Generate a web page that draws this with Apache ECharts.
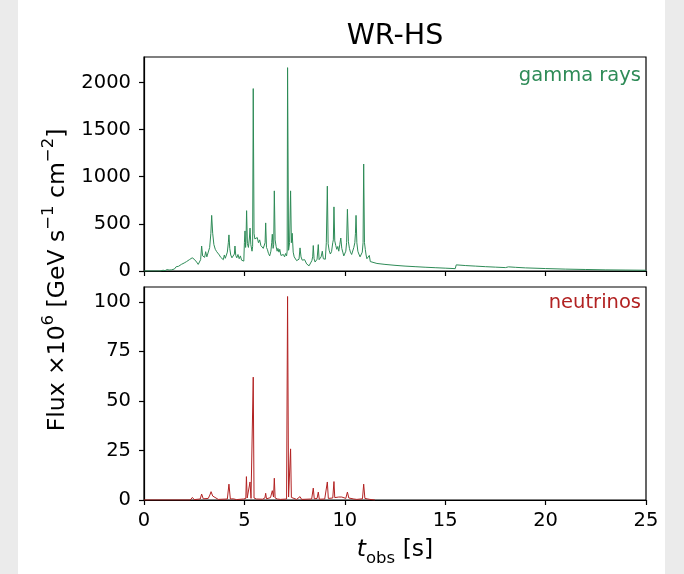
<!DOCTYPE html>
<html>
<head>
<meta charset="utf-8">
<script src="https://cdn.jsdelivr.net/npm/echarts@6/dist/echarts.min.js"></script>
<style>
html,body{margin:0;padding:0;background:#fff;}
#chart{width:684px;height:574px;}
</style>
</head>
<body>
<div id="chart"></div>
<script>
// ---- data ----
var xTicks = [0, 5, 10, 15, 20, 25];
var gammaTicks = [0, 500, 1000, 1500, 2000];
var nuTicks = [0, 25, 50, 75, 100];

// gamma-ray flux: [t_obs (s), flux]
var gammaRise = [[0.0,0],[0.8,0],[0.95,8],[1.05,4],[1.15,15],[1.25,10],[1.3,28],[1.38,12],[1.45,32],[1.52,22],[1.6,45],[1.66,30],[1.72,50],[1.8,38],[1.86,70],[1.92,55],[2.0,85],[2.06,65],[2.12,100],[2.2,80],[2.26,120],[2.32,105],[2.4,140],[2.45,150],[2.5,125],[2.56,135],[2.62,95],[2.7,70],[2.75,50]];
var gammaBurstA = [[2.82,120],[2.87,265],[2.92,160],[2.97,180],[3.02,145],[3.07,205],[3.13,150],[3.2,165],[3.27,250],[3.33,400],[3.37,590],[3.42,400],[3.48,280],[3.55,230],[3.62,205],[3.68,185],[3.75,170],[3.82,145],[3.88,160],[3.95,120],[4.0,170],[4.05,135],[4.1,150],[4.15,200],[4.2,300],[4.23,383],[4.27,240],[4.32,170],[4.38,140],[4.45,125],[4.5,180],[4.53,265],[4.57,165],[4.62,140],[4.68,175],[4.74,130],[4.8,160],[4.86,115],[4.92,130],[4.97,105]];
var gammaBurstB = [[5.0,300],[5.03,425],[5.06,250],[5.08,330],[5.11,640],[5.15,290],[5.2,250],[5.25,350],[5.28,455],[5.32,280],[5.38,210],[5.41,260],[5.44,1935],[5.48,400],[5.52,340],[5.58,320],[5.64,355],[5.7,300],[5.76,330],[5.82,270],[5.88,290],[5.94,240],[5.99,250],[6.03,300],[6.06,510],[6.1,250],[6.15,225],[6.2,185],[6.26,160],[6.32,210],[6.36,300],[6.39,390],[6.43,240],[6.46,280],[6.49,850],[6.53,330],[6.58,260],[6.63,210],[6.67,240],[6.72,200],[6.76,230],[6.82,165],[6.88,150],[6.94,175],[7.0,150],[7.05,185],[7.1,160]];
var gammaBurstC = [[7.13,210],[7.15,2157],[7.2,220],[7.25,300],[7.3,850],[7.34,300],[7.38,400],[7.43,200],[7.48,150],[7.54,130],[7.6,110],[7.66,100],[7.72,125],[7.77,245],[7.82,150],[7.88,115],[7.94,100],[8.0,120],[8.05,110],[8.1,75],[8.16,60],[8.22,55],[8.3,50],[8.36,110],[8.4,150],[8.43,270],[8.47,130],[8.52,95],[8.57,100],[8.62,125],[8.68,280],[8.72,120],[8.77,100],[8.82,150],[8.88,210],[8.93,130],[8.98,140],[9.03,125]];
var gammaBurstD = [[9.08,300],[9.13,900],[9.17,290],[9.22,220],[9.28,180],[9.34,205],[9.4,300],[9.43,330],[9.46,680],[9.5,320],[9.55,270],[9.6,230],[9.65,260],[9.7,210],[9.75,280],[9.8,350],[9.85,240],[9.9,200],[9.95,160],[10.0,170],[10.05,210],[10.09,300],[10.13,655],[10.18,310],[10.23,240],[10.28,200],[10.34,175],[10.4,165],[10.45,250],[10.5,300],[10.53,400],[10.56,590],[10.6,300],[10.65,210],[10.7,180],[10.76,150],[10.82,165],[10.87,200],[10.91,300],[10.94,1135],[10.98,300],[11.02,230],[11.06,170],[11.1,130],[11.14,150],[11.18,120],[11.22,165],[11.27,100],[11.35,90]];
var gammaTail = [[11.6,80],[12.0,70],[12.5,60],[13.0,52],[13.5,46],[14.0,40],[14.5,35],[15.0,30],[15.5,25],[15.55,65],[16.0,58],[16.5,52],[17.0,46],[17.5,41],[18.0,36],[18.15,44],[18.5,39],[19.0,33],[20.0,26],[21.0,20],[22.0,16],[23.0,12],[24.0,10],[25.0,8]];

// neutrino flux: [t_obs (s), flux]
var nuPoints = [[0.0,0],[2.3,0],[2.41,1.3],[2.5,0.2],[2.8,0.5],[2.87,3],[2.95,0.6],[3.2,0.8],[3.28,2.5],[3.34,4.2],[3.42,2],[3.5,1],[3.7,0.3],[4.15,0.5],[4.23,8],[4.3,0.5],[4.45,0.6],[4.6,0.2],[4.95,0.5],[5.03,1.5],[5.07,0.8],[5.1,11.8],[5.14,1],[5.22,1.5],[5.28,9.1],[5.33,0.8],[5.4,1],[5.44,62],[5.48,1],[5.6,0.5],[5.9,0.4],[6.02,1],[6.06,3.4],[6.1,0.6],[6.3,1.2],[6.39,4.7],[6.45,1.5],[6.49,11],[6.53,1],[6.65,0.5],[6.72,1.3],[6.8,0.3],[7.1,0.5],[7.15,102.7],[7.2,1.5],[7.25,0.8],[7.3,25.8],[7.34,1.3],[7.4,0.5],[7.6,0.3],[7.77,1.7],[7.85,0.3],[8.35,0.5],[8.43,6],[8.48,0.6],[8.62,0.8],[8.68,4],[8.73,0.4],[9.0,0.5],[9.08,1.5],[9.13,9.1],[9.18,0.8],[9.4,1],[9.46,9.3],[9.5,1.2],[9.7,1.5],[9.75,0.6],[9.85,1.5],[10.05,0.8],[10.13,4],[10.2,1],[10.45,0.5],[10.52,1.3],[10.6,0.3],[10.88,0.6],[10.94,8],[11.0,0.8],[11.15,0.5],[11.2,1.4],[11.25,0.3],[11.5,0]];

var gammaData = [].concat(gammaRise, gammaBurstA, gammaBurstB, gammaBurstC, gammaBurstD, gammaTail);
var nuData = nuPoints;

var FONT = 'DejaVu Sans';
var TICK_FS = 19.5;
var LABEL_FS = 23.5;
var GREEN = '#2e8b57';
var RED = '#b22222';

var chart = echarts.init(document.getElementById('chart'), null, {renderer: 'canvas'});

function xAxisCfg(gi, showLabels) {
  return {
    type: 'value', gridIndex: gi, min: 0, max: 25, interval: 5,
    axisLine: {show: true, onZero: false, lineStyle: {color: '#000', width: 1.2}},
    axisTick: {show: true, inside: false, length: 5, lineStyle: {color: '#000', width: 1.2}, customValues: xTicks},
    axisLabel: {show: showLabels, color: '#000', fontFamily: FONT, fontSize: TICK_FS, margin: 11,
      customValues: xTicks, formatter: function (v) { return String(v); }},
    splitLine: {show: false}
  };
}
function yAxisCfg(gi, max, ticks) {
  return {
    type: 'value', gridIndex: gi, min: 0, max: max,
    axisLine: {show: true, onZero: false, lineStyle: {color: '#000', width: 1.2}},
    axisTick: {show: true, inside: false, length: 5, lineStyle: {color: '#000', width: 1.2}, customValues: ticks},
    axisLabel: {show: true, color: '#000', fontFamily: FONT, fontSize: TICK_FS, margin: 13,
      customValues: ticks, formatter: function (v) { return String(v); }},
    splitLine: {show: false}
  };
}

var option = {
  backgroundColor: '#fff',
  animation: false,
  grid: [
    {left: 144, right: 38, top: 57, height: 214, show: true, borderColor: '#000', borderWidth: 1.2, backgroundColor: 'transparent'},
    {left: 144, right: 38, top: 287, height: 213, show: true, borderColor: '#000', borderWidth: 1.2, backgroundColor: 'transparent'}
  ],
  xAxis: [xAxisCfg(0, false), xAxisCfg(1, true)],
  yAxis: [yAxisCfg(0, 2270, gammaTicks), yAxisCfg(1, 107.5, nuTicks)],
  series: [
    {type: 'line', xAxisIndex: 0, yAxisIndex: 0, data: gammaData, showSymbol: false, symbol: 'none',
      lineStyle: {color: GREEN, width: 1}, itemStyle: {color: GREEN}, clip: true, z: 1},
    {type: 'line', xAxisIndex: 1, yAxisIndex: 1, data: nuData, showSymbol: false, symbol: 'none',
      lineStyle: {color: RED, width: 1}, itemStyle: {color: RED}, clip: true, z: 1}
  ],
  graphic: [
    {type: 'rect', left: 0, top: 0, shape: {width: 18, height: 574}, style: {fill: '#ebebeb'}, silent: true},
    {type: 'rect', left: 665, top: 0, shape: {width: 19, height: 574}, style: {fill: '#ebebeb'}, silent: true},
    {type: 'text', x: 395, y: 37, style: {text: 'WR-HS', fontFamily: FONT, fontSize: 28.5, fill: '#000', align: 'center', verticalAlign: 'middle'}},
    {type: 'text', x: 641, y: 76, style: {text: 'gamma rays', fontFamily: FONT, fontSize: TICK_FS, fill: GREEN, align: 'right', verticalAlign: 'middle'}},
    {type: 'text', x: 641, y: 303, style: {text: 'neutrinos', fontFamily: FONT, fontSize: TICK_FS, fill: RED, align: 'right', verticalAlign: 'middle'}},
    {type: 'text', x: 395, y: 550, style: {
      text: '{it|t}{sub|obs}{a| [s]}', align: 'center', verticalAlign: 'middle',
      rich: {
        it: {fontFamily: FONT, fontStyle: 'italic', fontSize: LABEL_FS, fill: '#000', color: '#000', lineHeight: 28, verticalAlign: 'middle'},
        sub: {fontFamily: FONT, fontSize: 16.5, fill: '#000', color: '#000', lineHeight: 28, verticalAlign: 'bottom', padding: [0, 0, -3, 0]},
        a: {fontFamily: FONT, fontSize: LABEL_FS, fill: '#000', color: '#000', lineHeight: 28, verticalAlign: 'middle'}
      }}},
    {type: 'text', x: 55, y: 280, rotation: Math.PI / 2, style: {
      text: '{a|Flux ×10}{sup|6}{a| [GeV s}{sup|−1}{a| cm}{sup|−2}{a|]}', align: 'center', verticalAlign: 'middle',
      rich: {
        a: {fontFamily: FONT, fontSize: LABEL_FS, fill: '#000', color: '#000', lineHeight: 30, verticalAlign: 'bottom'},
        sup: {fontFamily: FONT, fontSize: 16.5, fill: '#000', color: '#000', lineHeight: 30, verticalAlign: 'top'}
      }}}
  ]
};
chart.setOption(option);
</script>
</body>
</html>
